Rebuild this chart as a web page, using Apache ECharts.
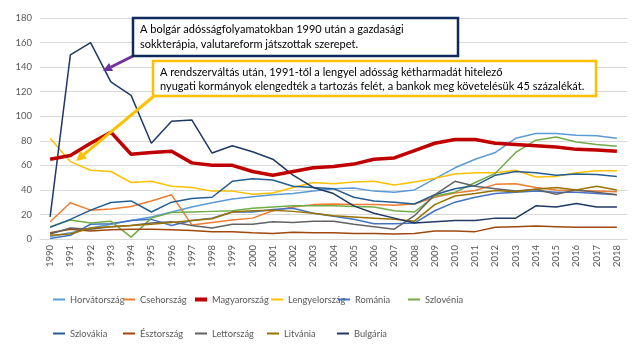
<!DOCTYPE html>
<html>
<head>
<meta charset="utf-8">
<script src="https://cdn.jsdelivr.net/npm/echarts@6/dist/echarts.min.js"></script>
<style>html,body{margin:0;padding:0;background:#fff}#c{width:640px;height:360px}</style>
</head>
<body>
<div id="c"></div>
<script>
const years = ['1990','1991','1992','1993','1994','1995','1996','1997','1998','1999','2000','2001','2002','2003','2004','2005','2006','2007','2008','2009','2010','2011','2012','2013','2014','2015','2016','2017','2018'];
const yTicks = [0,20,40,60,80,100,120,140,160,180];

const horvatorszag = [2,5,9,12,15,18,22,26,29.5,32.5,34.5,36,37,39,41,41.5,39,38,40,49,58,65,70.5,82,86,86,84.5,84,82];
const csehorszag = [14,29.5,23.5,24.5,26.5,31,36,11.5,13.5,15.5,17,23,26,28,28.5,28,28,27.5,28.5,34,37.5,39.5,44.5,45,42,40,39.5,39,38.5];
const magyarorszag = [65,68,78,87,69,70.5,71.5,62,60,60,55,52,55,58,59,61,65,66,72,78,81,81,78,77,76,75,73,72.5,71.5];
const lengyelorszag = [82,63,56,55,46,47,43,42,39,39,36.5,37.5,42,46,45,46.5,47,44,46.5,49.5,53,54,54,56,50.5,51,54,55.5,55.5];
const romania = [0.5,3,12,12.5,15,16,11,15,17,22,22,24,25,21,18.5,16,12.5,12.5,13,23,30,34,37,38,39,38,38,37,36];
const szlovenia = [10,15.5,13,14.5,1.5,17,21.5,22,22.5,23,25,26,27,27,27,26.5,26,23,22,35,38,46,53.5,70.5,80.5,83,79,77,75.5];
const szlovakia = [9.5,16,23.5,29.7,31,22,30,33,34,47,49,48,43,42,41,34,31,30,28.5,36,41,43.5,52,55,54,52,53,52.5,51];
const esztorszag = [5,8,6.5,7.5,8,8,7.5,7,6,6,5,4.5,5.5,5,5,4.5,4.5,4,4.5,6.5,6.5,6,9.5,10,10.5,10,9.5,9.5,9.5];
const lettorszag = [4,9,8,10,11,13,14,11,9,12,12,14,13.5,14.5,14.5,12,10,8,19,36,47,43,41,39,40.5,36.5,40,38,36];
const litvania = [3,4,9,10,11,12,13.5,15,16.5,22,23,23.5,22.5,21,19,18,17,16,14.5,28,35,37,39.5,38.5,40.5,42,40,43,40];
const bulgaria = [18,150,160,128,117,78,96,97,70,76,71,65,52,42,37,27,21,17,13,14,15,15,17,17,27,26,29,26,26];

const names = ['Horvátország','Csehország','Magyarország','Lengyelország','Románia','Szlovénia','Szlovákia','Észtország','Lettország','Litvánia','Bulgária'];
const values = [horvatorszag,csehorszag,magyarorszag,lengyelorszag,romania,szlovenia,szlovakia,esztorszag,lettorszag,litvania,bulgaria];
const colors = ['#5B9BD5','#ED7D31','#C00000','#FFC000','#4472C4','#70AD47','#255E91','#9E480E','#636363','#997300','#1F3864'];

const note1 = ['A bolgár adósságfolyamatokban 1990 után a gazdasági','sokkterápia, valutareform játszottak szerepet.'];
const note2 = ['A rendszerváltás után, 1991-től a lengyel adósság kétharmadát hitelező','nyugati kormányok elengedték a tartozás felét, a bankok meg követelésük 45 százalékát.'];

const FONT = 'Lato';
// legend placement (layout)
const legendPos = [[53,302],[123,302],[195,302],[271,302],[338,302],[408,302],[53,336],[123,336],[195,336],[267,336],[337,336]];

const series = names.map((n,i)=>({
  name:n, type:'line', data:values[i], symbol:'none', smooth:false,
  lineStyle:{color:colors[i], width: n==='Magyarország'?3.5:1.5},
  itemStyle:{color:colors[i]},
  z: n==='Magyarország'?5:3
}));

const legends = names.map((n,i)=>({
  data:[{name:n, icon:'rect'}],
  left: legendPos[i][0], top: legendPos[i][1]-7,
  itemWidth:12, itemHeight: n==='Magyarország'?4:2,
  itemGap:0, padding:0,
  textStyle:{fontFamily:FONT, fontSize:9.3, color:'#595959'},
  selectedMode:false
}));

function arrow(x1,y1,x2,y2,color,w,head){
  const dx=x2-x1, dy=y2-y1, L=Math.sqrt(dx*dx+dy*dy);
  const ux=dx/L, uy=dy/L;
  const bx=x2-ux*head, by=y2-uy*head;
  const px=-uy, py=ux, hw=head*0.5;
  return [
    {type:'line', shape:{x1:x1,y1:y1,x2:bx,y2:by}, style:{stroke:color,lineWidth:w}, z:50},
    {type:'polygon', shape:{points:[[x2,y2],[bx+px*hw,by+py*hw],[bx-px*hw,by-py*hw]]}, style:{fill:color}, z:50}
  ];
}

const graphics = [
  ...arrow(133,56,103,71,'#7030A0',3,9),
  ...arrow(154,96,76,161,'#FFC000',3,10),
  {type:'rect', shape:{x:133,y:18,width:325,height:38}, style:{fill:'#fff',stroke:'#0F2A5C',lineWidth:2.5}, z:60},
  {type:'text', left:140, top:22, style:{text:note1.join('\n'), font:'11px '+FONT, fill:'#000', lineHeight:15}, z:61},
  {type:'rect', shape:{x:153,y:61,width:443,height:35}, style:{fill:'#fff',stroke:'#FFC000',lineWidth:2.5}, z:60},
  {type:'text', left:160, top:65, style:{text:note2.join('\n'), font:'11px '+FONT, fill:'#000', lineHeight:14}, z:61}
];

const chart = echarts.init(document.getElementById('c'), null, {renderer:'canvas'});
chart.setOption({
  animation:false,
  backgroundColor:'#fff',
  grid:{left:40, right:13, top:18, bottom:121, containLabel:false},
  xAxis:{type:'category', data:years, boundaryGap:true,
    axisLine:{lineStyle:{color:'#D9D9D9'}}, axisTick:{show:false},
    axisLabel:{rotate:90, interval:0, fontFamily:FONT, fontSize:9.5, color:'#595959', margin:6}},
  yAxis:{type:'value', min:yTicks[0], max:yTicks[yTicks.length-1], interval:20,
    axisLine:{show:false}, axisTick:{show:false},
    splitLine:{lineStyle:{color:'#D9D9D9'}},
    axisLabel:{fontFamily:FONT, fontSize:9.5, color:'#595959', margin:8}},
  legend:legends,
  series:series,
  graphic:graphics
});
</script>
</body>
</html>
